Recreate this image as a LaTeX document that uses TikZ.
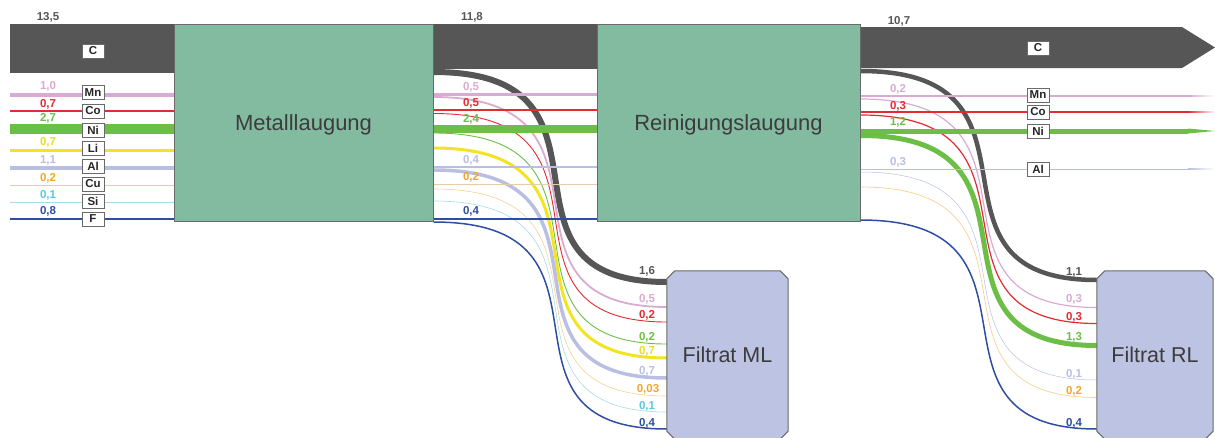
\documentclass[tikz,border=0pt]{standalone}
\usepackage{fontspec}
\setmainfont{Liberation Sans}
\usetikzlibrary{calc,backgrounds}

\definecolor{cC}{HTML}{565656}
\definecolor{cMn}{HTML}{DBAAD2}
\definecolor{cCo}{HTML}{E62A32}
\definecolor{cNi}{HTML}{6CBE47}
\definecolor{cLi}{HTML}{F2E422}
\definecolor{cLiT}{HTML}{EEDD1C}
\definecolor{cAl}{HTML}{B9BFE2}
\definecolor{cCu}{HTML}{F5A52A}
\definecolor{cCuL}{HTML}{E6CBAA}
\definecolor{cCuC}{HTML}{F9CF95}
\definecolor{cSi}{HTML}{5DC6DF}
\definecolor{cSiL}{HTML}{A5DAE7}
\definecolor{cF}{HTML}{2D4EA1}
\definecolor{procfill}{HTML}{83BBA1}
\definecolor{filtfill}{HTML}{BDC3E3}
\definecolor{boxline}{HTML}{6A6A6A}
\definecolor{boxtext}{HTML}{3C3C3C}

% S-shaped flow from a process outlet to a filtrate inlet
\newcommand{\sflow}[3]{\draw[#1] (#2) .. controls +(207,0) and +(-194,0) .. (#3);}
% outline of a filtrate vessel with cut corners
\newcommand{\cutbox}[1]{%
  \filldraw[draw=boxline, line width=1pt, fill=filtfill]
    ($(#1.north west)+(8,0)$) -- ($(#1.north east)+(-8,0)$) --
    ($(#1.north east)+(0,8)$) -- ($(#1.south east)+(0,-8)$) --
    ($(#1.south east)+(-8,0)$) -- ($(#1.south west)+(8,0)$) --
    ($(#1.south west)+(0,-8)$) -- ($(#1.north west)+(0,8)$) -- cycle;}

\begin{document}
\begin{tikzpicture}[x=1pt,y=-1pt,
  procbox/.style={draw=boxline, line width=1pt, fill=procfill, text=boxtext,
    font=\fontsize{22}{26}\selectfont, inner sep=0pt, text depth=0pt},
  filtbox/.style={rectangle, text=boxtext,
    font=\fontsize{21.5}{26}\selectfont, inner sep=0pt, text depth=0pt},
  tag/.style={draw=boxline, line width=0.8pt, fill=white, text=black!85,
    font=\bfseries\fontsize{11.5}{12}\selectfont, minimum width=22pt,
    minimum height=14pt, inner sep=0pt},
  val/.style={font=\bfseries\fontsize{11.5}{12}\selectfont, inner sep=0pt},
]
\useasboundingbox (0,0) rectangle (1215,437);

% free ends of the streams
\coordinate (src) at (10,122);
\coordinate (tip) at (1215,47.5);
\coordinate (abase) at (1182,47.5);
\coordinate (fade) at (1188,0);

% process units
\node[procbox, minimum width=259pt, minimum height=197pt] (ml) at (303.5,122.5) {Metalllaugung};
\node[procbox, minimum width=263pt, minimum height=197pt] (rl) at (728.5,122.5) {Reinigungslaugung};
\node[filtbox, minimum width=121pt, minimum height=168pt] (fml) at (727.5,355) {Filtrat ML};
\node[filtbox, minimum width=116pt, minimum height=168pt] (frl) at (1155,355) {Filtrat RL};

\begin{scope}[on background layer]
  % carbon bands
  \fill[cC] (src |- 0,24) rectangle (ml.west |- 0,73);
  \fill[cC] (ml.east |- 0,24) rectangle (rl.west |- 0,69);
  \fill[cC] (rl.east |- 0,27) -- (abase |- 0,27) -- (tip) -- (abase |- 0,68)
            -- (rl.east |- 0,68) -- cycle;

  % streams into Filtrat ML
  \sflow{cC, line width=6pt}{ml.east |- 0,72}{fml.west |- 0,282}
  \sflow{cMn, line width=1.8pt}{ml.east |- 0,97}{fml.west |- 0,307}
  \sflow{cCo, line width=0.9pt}{ml.east |- 0,113.5}{fml.west |- 0,322}
  \sflow{cNi, line width=0.9pt}{ml.east |- 0,133}{fml.west |- 0,344}
  \sflow{cLi, line width=3pt}{ml.east |- 0,148}{fml.west |- 0,358}
  \sflow{cAl, line width=3.5pt}{ml.east |- 0,170}{fml.west |- 0,378}
  \sflow{cCuC, line width=0.6pt}{ml.east |- 0,189}{fml.west |- 0,396}
  \sflow{cSiL, line width=0.6pt}{ml.east |- 0,201}{fml.west |- 0,412}
  \sflow{cF, line width=1.5pt}{ml.east |- 0,222}{fml.west |- 0,429}

  % streams into Filtrat RL
  \sflow{cC, line width=4.5pt}{rl.east |- 0,71}{frl.west |- 0,280}
  \sflow{cMn, line width=1.2pt}{rl.east |- 0,99}{frl.west |- 0,307.5}
  \sflow{cCo, line width=1.2pt}{rl.east |- 0,115}{frl.west |- 0,323.5}
  \sflow{cNi, line width=5pt}{rl.east |- 0,135.5}{frl.west |- 0,345.5}
  \sflow{cAl, line width=0.5pt}{rl.east |- 0,172}{frl.west |- 0,380}
  \sflow{cCuC, line width=0.7pt}{rl.east |- 0,187}{frl.west |- 0,397.5}
  \sflow{cF, line width=1.5pt}{rl.east |- 0,220}{frl.west |- 0,429}

  % feed lines
  \draw[cMn, line width=4pt] (src |- 0,94.7) -- (ml.west |- 0,94.7);
  \draw[cCo, line width=2.3pt] (src |- 0,111) -- (ml.west |- 0,111);
  \draw[cNi, line width=10pt] (src |- 0,129) -- (ml.west |- 0,129);
  \draw[cLi, line width=3pt] (src |- 0,150.3) -- (ml.west |- 0,150.3);
  \draw[cAl, line width=4pt] (src |- 0,168) -- (ml.west |- 0,168);
  \draw[cCuL, line width=1pt] (src |- 0,185) -- (ml.west |- 0,185);
  \draw[cSiL, line width=0.8pt] (src |- 0,202) -- (ml.west |- 0,202);
  \draw[cF, line width=2.6pt] (src |- 0,219) -- (ml.west |- 0,219);

  % lines between the two leaching steps
  \draw[cMn, line width=3pt] (ml.east |- 0,94) -- (rl.west |- 0,94);
  \draw[cCo, line width=2pt] (ml.east |- 0,110) -- (rl.west |- 0,110);
  \draw[cNi, line width=8.5pt] (ml.east |- 0,129) -- (rl.west |- 0,129);
  \draw[cAl, line width=2pt] (ml.east |- 0,167) -- (rl.west |- 0,167);
  \draw[cCuL, line width=1pt] (ml.east |- 0,184) -- (rl.west |- 0,184);
  \draw[cF, line width=1.5pt] (ml.east |- 0,219) -- (rl.west |- 0,219);

  % product lines, fading out at the right
  \draw[cMn, line width=1.2pt] (rl.east |- 0,96) -- (fade |- 0,96);
  \shade[left color=cMn, right color=white] (fade |- 0,95.4) rectangle (tip |- 0,96.6);
  \draw[cCo, line width=1.8pt] (rl.east |- 0,112) -- (fade |- 0,112);
  \shade[left color=cCo, right color=white] (fade |- 0,111.1) rectangle (tip |- 0,112.9);
  \draw[cNi, line width=5pt] (rl.east |- 0,131) -- (fade |- 0,131);
  \fill[cNi] (fade |- 0,128.5) -- (tip |- 0,131) -- (fade |- 0,133.5) -- cycle;
  \draw[cAl, line width=1pt] (rl.east |- 0,169) -- (fade |- 0,169);
  \shade[left color=cAl, right color=white] (fade |- 0,168.5) rectangle (tip |- 0,169.5);

  % filtrate vessels
  \cutbox{fml}
  \cutbox{frl}
\end{scope}

% element tags
\node[tag] (tC1) at (93,51) {C};
\node[tag] (tMn1) at (93,92.5) {Mn};
\node[tag] (tCo1) at (93,111) {Co};
\node[tag] (tNi1) at (93,130) {Ni};
\node[tag] (tLi1) at (93,148) {Li};
\node[tag] (tAl1) at (93,166) {Al};
\node[tag] (tCu1) at (93,184) {Cu};
\node[tag] (tSi1) at (93,201) {Si};
\node[tag] (tF1) at (93,219) {F};

\node[tag] (tC2) at (1038,48) {C};
\node[tag] (tMn2) at (1038,95) {Mn};
\node[tag] (tCo2) at (1038,112) {Co};
\node[tag] (tNi2) at (1038,131) {Ni};
\node[tag] (tAl2) at (1038,169) {Al};

% quantities of the feed
\node[val, text=cC] (v1) at (48,17.5) {13,5};
\node[val, text=cMn] (v2) at (48,86.5) {1,0};
\node[val, text=cCo] (v3) at (48,104) {0,7};
\node[val, text=cNi] (v4) at (48,118) {2,7};
\node[val, text=cLiT] (v5) at (48,142) {0,7};
\node[val, text=cAl] (v6) at (48,160) {1,1};
\node[val, text=cCu] (v7) at (48,178) {0,2};
\node[val, text=cSi] (v8) at (48,195) {0,1};
\node[val, text=cF] (v9) at (48,211) {0,8};

% quantities after Metalllaugung
\node[val, text=cC] (m1) at (472,17) {11,8};
\node[val, text=cMn] (m2) at (471,87.5) {0,5};
\node[val, text=cCo] (m3) at (471,103.5) {0,5};
\node[val, text=cNi] (m4) at (471,119) {2,4};
\node[val, text=cAl] (m5) at (471,160.5) {0,4};
\node[val, text=cCu] (m6) at (471,177.5) {0,2};
\node[val, text=cF] (m7) at (471,211.5) {0,4};

% quantities after Reinigungslaugung
\node[val, text=cC] (r1) at (899,21) {10,7};
\node[val, text=cMn] (r2) at (898,89.5) {0,2};
\node[val, text=cCo] (r3) at (898,106) {0,3};
\node[val, text=cNi] (r4) at (898,122.5) {1,2};
\node[val, text=cAl] (r5) at (898,162) {0,3};

% quantities in Filtrat ML
\node[val, text=cC] (f1) at (647,271) {1,6};
\node[val, text=cMn] (f2) at (647,299) {0,5};
\node[val, text=cCo] (f3) at (647,315) {0,2};
\node[val, text=cNi] (f4) at (647,337) {0,2};
\node[val, text=cLiT] (f5) at (647,351) {0,7};
\node[val, text=cAl] (f6) at (647,371) {0,7};
\node[val, text=cCu] (f7) at (648,389) {0,03};
\node[val, text=cSi] (f8) at (647,406) {0,1};
\node[val, text=cF] (f9) at (647,423) {0,4};

% quantities in Filtrat RL
\node[val, text=cC] (g1) at (1074,272) {1,1};
\node[val, text=cMn] (g2) at (1074,299.5) {0,3};
\node[val, text=cCo] (g3) at (1074,317) {0,3};
\node[val, text=cNi] (g4) at (1074,337) {1,3};
\node[val, text=cAl] (g5) at (1074,374) {0,1};
\node[val, text=cCu] (g6) at (1074,391) {0,2};
\node[val, text=cF] (g7) at (1074,423) {0,4};
\end{tikzpicture}
\end{document}
